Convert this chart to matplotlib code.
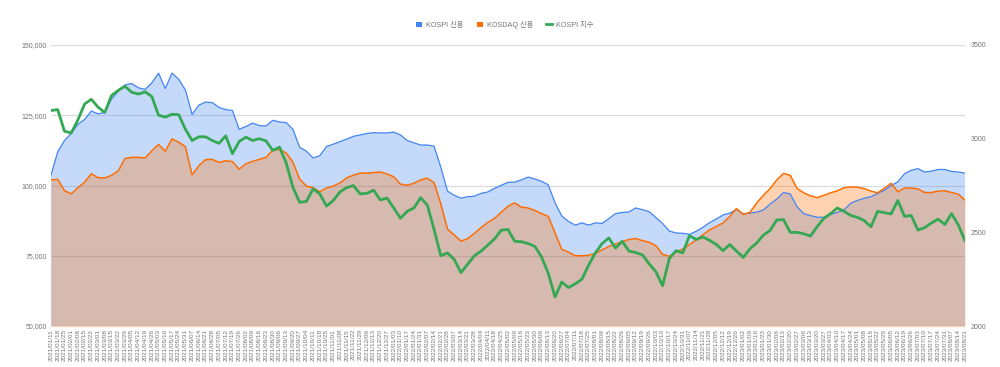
import matplotlib
matplotlib.use("Agg")
import matplotlib.pyplot as plt
from matplotlib.patches import Patch
from matplotlib.lines import Line2D
import pandas as pd

plt.rcParams['font.family'] = ['Liberation Sans', 'Noto Sans CJK KR', 'DejaVu Sans']

# weekly tick labels (one per data row shown)
dates = pd.date_range(start="2021-01-11", periods=137, freq="7D")
date_labels = [d.strftime("%Y/%m/%d") for d in dates]

kospi_credit = [
    103.7, 112, 116, 118.5, 121.8, 123.5, 126.5, 125.5, 126, 130.8,
    133.5, 135.8, 136.3, 134.8, 134.2, 136.5, 140, 134.5, 140, 137.8,
    134, 125.3, 128.6, 129.7, 129.5, 127.8, 127, 126.7, 120, 121,
    122.2, 121.3, 121.2, 123.2, 122.6, 122.4, 120, 113.6, 112.2, 109.8,
    110.6, 113.9, 114.7, 115.6, 116.5, 117.5, 118, 118.5, 118.8, 118.7,
    118.7, 119, 118, 116, 115.2, 114.4, 114.4, 114, 106.5, 98,
    96.5, 95.5, 96, 96.2, 97.2, 97.7, 99, 100.1, 101.1, 101.2,
    102, 103, 102.3, 101.5, 100.2, 93.8, 89.2, 87.2, 85.9, 86.7,
    85.9, 86.7, 86.5, 88.2, 90, 90.4, 90.6, 92, 91.4, 90.7,
    88.6, 86.5, 83.8, 83.1, 83, 82.6, 83.7, 85.1, 86.8, 88.1,
    89.5, 90.2, 91.5, 89.9, 90.2, 90.5, 91.3, 93.4, 95.2, 97.5,
    97, 92.5, 90, 89.3, 88.7, 88.7, 89.7, 90.4, 91.4, 93.7,
    94.7, 95.5, 96, 97.2, 98.3, 100, 101.3, 104.2, 105.4, 106,
    104.8, 105.1, 105.7, 105.7, 105, 104.8, 104.4,
]

kosdaq_credit = [
    102, 102.2, 98.2, 97, 99.2, 101.2, 104.2, 102.8, 102.7, 103.6,
    105.2, 109.6, 110, 110, 109.8, 112.3, 114.6, 112.2, 116.6, 115.4,
    113.8, 103.8, 107, 109.2, 109.3, 108.2, 108.8, 108.5, 105.8, 107.7,
    108.6, 109.3, 110, 112.6, 112.8, 111.6, 108.3, 102.3, 99.8, 99.2,
    97.8, 99.1, 99.8, 100.9, 102.7, 103.7, 104.4, 104.4, 104.6, 104.8,
    104.1, 103.1, 100.5, 100.1, 100.8, 102, 102.6, 101, 93.5, 84.5,
    82.4, 80.2, 81.1, 83, 85, 86.9, 88.3, 90.5, 92.6, 93.8,
    92.3, 92, 91.1, 90, 89, 83.1, 77.3, 76.3, 75, 75,
    75.2, 75.8, 77.1, 78.3, 79.2, 80, 80.8, 81.1, 80.4, 79.8,
    78.6, 75.5, 74.8, 76.3, 77.4, 79, 80.6, 82.5, 84.2, 85.4,
    86.7, 89, 91.8, 89.7, 90.4, 93.8, 96.5, 98.9, 102, 104.3,
    103.6, 99, 97.4, 96.3, 95.7, 96.5, 97.4, 98.1, 99.2, 99.5,
    99.4, 98.9, 98, 97.4, 99, 100.8, 97.8, 99.1, 99.1, 98.8,
    97.5, 97.5, 98, 98.1, 97.5, 96.9, 94.8,
]

kospi_index = [
    3150, 3155, 3040, 3030, 3100, 3185, 3210, 3168, 3140, 3230,
    3258, 3280, 3248, 3238, 3250, 3225, 3125, 3115, 3130, 3128,
    3050, 2990, 3010, 3010, 2990, 2975, 3015, 2920, 2985, 3008,
    2990, 3000, 2988, 2937, 2955, 2870, 2740, 2660, 2665, 2732,
    2705, 2640, 2670, 2716, 2739, 2750, 2705, 2708, 2725, 2673,
    2683, 2630, 2575, 2612, 2630, 2685, 2645, 2515, 2375, 2390,
    2355, 2285, 2330, 2375, 2400, 2432, 2465, 2512, 2515, 2452,
    2450, 2440, 2425, 2368, 2280, 2155, 2235, 2205, 2225, 2250,
    2325, 2390, 2440, 2470, 2416, 2452, 2400, 2392, 2380, 2332,
    2290, 2215, 2360, 2402, 2390, 2482, 2462, 2475, 2457, 2435,
    2402, 2435, 2400, 2366, 2412, 2443, 2485, 2510, 2566, 2568,
    2500, 2500, 2492, 2480, 2530, 2575, 2600, 2630, 2612, 2590,
    2580, 2563, 2530, 2612, 2605, 2598, 2670, 2585, 2590, 2512,
    2525, 2550, 2570, 2542, 2600, 2540, 2455,
]

left_ticks = [50000, 75000, 100000, 125000, 150000]
right_ticks = [2000, 2500, 3000, 3500]

BLUE = "#4285F4"
ORANGE = "#FF6D01"
GREEN = "#34A853"
TXT = "#757575"

fig = plt.figure(figsize=(10, 3.67), dpi=100)
ax = fig.add_axes([0.051, 0.1117, 0.914, 0.7657])
x = list(range(len(date_labels)))
kospi_vals = [v * 1000 for v in kospi_credit]
kosdaq_vals = [v * 1000 for v in kosdaq_credit]

ax.fill_between(x, 0, kospi_vals, color=BLUE, alpha=0.3, lw=0, zorder=2)
ax.fill_between(x, 0, kosdaq_vals, color=ORANGE, alpha=0.3, lw=0, zorder=2)
ax.plot(x, kospi_vals, color=BLUE, lw=0.9, zorder=3)
ax.plot(x, kosdaq_vals, color=ORANGE, lw=1.1, zorder=3)

ax.set_xlim(0, len(x) - 1)
ax.set_ylim(50000, 150000)
ax.set_yticks(left_ticks)
ax.set_yticklabels([f"{t:,}" for t in left_ticks])
ax.grid(axis="y", color="#d9d9d9", lw=0.8, zorder=1)
ax.set_axisbelow(True)
ax.set_xticks(x)
ax.set_xticklabels(date_labels, rotation=90, fontsize=4.6, color=TXT)
ax.tick_params(axis="both", length=0)
ax.tick_params(axis="y", labelsize=5, labelcolor=TXT, pad=3)
ax.tick_params(axis="x", pad=2)
for s in ax.spines.values():
    s.set_visible(False)

ax2 = ax.twinx()
ax2.plot(x, kospi_index, color=GREEN, lw=2.0, zorder=4)
ax2.set_ylim(2000, 3500)
ax2.set_yticks(right_ticks)
ax2.set_yticklabels([str(t) for t in right_ticks])
ax2.tick_params(axis="y", length=0, labelsize=5, labelcolor=TXT, pad=4)
for s in ax2.spines.values():
    s.set_visible(False)

handles = [
    Patch(facecolor=BLUE, edgecolor="none"),
    Patch(facecolor=ORANGE, edgecolor="none"),
    Line2D([0], [0], color=GREEN, lw=2),
]
fig.legend(handles, ["KOSPI 신용", "KOSDAQ 신용", "KOSPI 지수"],
           loc="center", bbox_to_anchor=(0.505, 0.932), ncol=3, frameon=False,
           fontsize=5.2, labelcolor=TXT, handlelength=0.8, handleheight=0.8,
           handletextpad=0.6, columnspacing=1.8)

fig.savefig("out.png", dpi=100)
